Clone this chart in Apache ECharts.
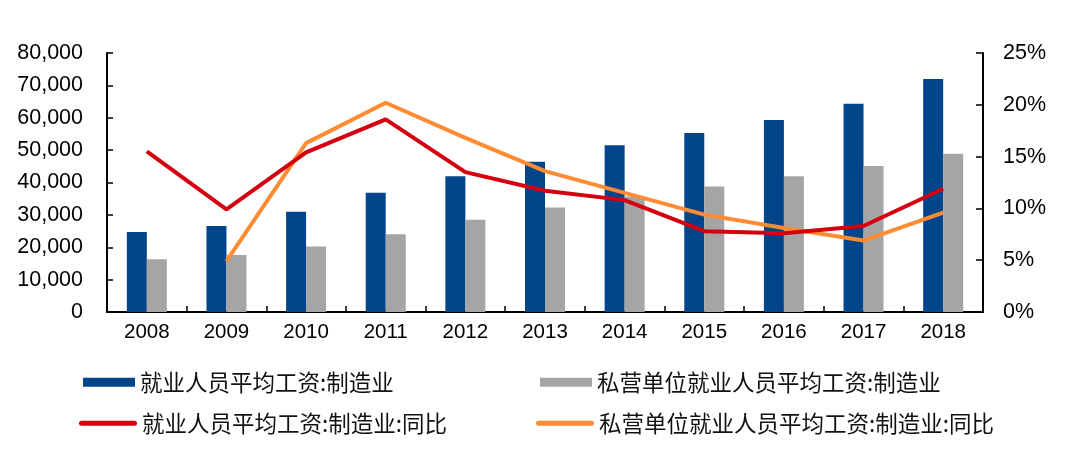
<!DOCTYPE html>
<html>
<head>
<meta charset="utf-8">
<script src="https://cdn.jsdelivr.net/npm/echarts@6/dist/echarts.min.js"></script>
<style>html,body{margin:0;padding:0;background:#fff;}#c{width:1080px;height:455px;}</style>
</head>
<body>
<div id="c"></div>
<script>
const categories = ['2008','2009','2010','2011','2012','2013','2014','2015','2016','2017','2018'];
const wageAll = [24700, 26600, 31000, 36800, 41900, 46400, 51500, 55300, 59300, 64300, 72000];
const wagePrivate = [16300, 17600, 20200, 24000, 28500, 32300, 35700, 38800, 41900, 45100, 48900];
const yoyAll = [15.5, 9.9, 15.4, 18.6, 13.5, 11.7, 10.8, 7.8, 7.6, 8.3, 11.9];
const yoyPrivate = [null, 4.9, 16.3, 20.2, 16.8, 13.6, 11.5, 9.4, 8.1, 6.9, 9.6];
const leftTicks = {min: 0, max: 80000, interval: 10000};
const rightTicks = {min: 0, max: 25, interval: 5};
const names = ['就业人员平均工资:制造业', '私营单位就业人员平均工资:制造业', '就业人员平均工资:制造业:同比', '私营单位就业人员平均工资:制造业:同比'];

const numFont = 'Liberation Sans, Arial, sans-serif';
const cjkFont = '"Noto Sans CJK SC", sans-serif';
const capsule = 'path://M2.5,0 L55.5,0 A2.5,2.5 0 0 1 55.5,5 L2.5,5 A2.5,2.5 0 0 1 2.5,0 Z';
const legendText = {fontFamily: cjkFont, fontSize: 22.5, color: '#111'};

const chart = echarts.init(document.getElementById('c'), null, {renderer: 'canvas'});
chart.setOption({
  animation: false,
  backgroundColor: '#fff',
  grid: {left: 107, right: 97, top: 53, bottom: 143, containLabel: false},
  legend: [
    {data: [names[0]], left: 83, top: 371, padding: 0, itemWidth: 52, itemHeight: 9, icon: 'rect', textStyle: legendText},
    {data: [names[1]], left: 540, top: 371, padding: 0, itemWidth: 52, itemHeight: 9, icon: 'rect', textStyle: legendText},
    {data: [names[2]], left: 79, top: 412, padding: 0, itemWidth: 58, itemHeight: 5, icon: capsule, textStyle: legendText},
    {data: [names[3]], left: 536, top: 412, padding: 0, itemWidth: 58, itemHeight: 5, icon: capsule, textStyle: legendText}
  ],
  xAxis: {
    type: 'category', data: categories, boundaryGap: true,
    axisLine: {lineStyle: {color: '#000', width: 2}},
    axisTick: {show: true, inside: true, length: 6, alignWithLabel: false, lineStyle: {color: '#000', width: 1.5}},
    axisLabel: {fontFamily: numFont, fontSize: 20.5, color: '#000', margin: 10},
    splitLine: {show: false}
  },
  yAxis: [
    {
      type: 'value', min: leftTicks.min, max: leftTicks.max, interval: leftTicks.interval,
      axisLine: {show: true, lineStyle: {color: '#000', width: 2}},
      axisTick: {show: true, inside: true, length: 6, lineStyle: {color: '#000', width: 1.5}},
      axisLabel: {fontFamily: numFont, fontSize: 21.5, color: '#000', margin: 24,
        formatter: v => v.toLocaleString('en-US')},
      splitLine: {show: false}
    },
    {
      type: 'value', min: rightTicks.min, max: rightTicks.max, interval: rightTicks.interval,
      position: 'right',
      axisLine: {show: true, lineStyle: {color: '#000', width: 2}},
      axisTick: {show: true, inside: true, length: 7, lineStyle: {color: '#000', width: 1.5}},
      axisLabel: {fontFamily: numFont, fontSize: 21.5, color: '#000', margin: 20, formatter: '{value}%'},
      splitLine: {show: false}
    }
  ],
  series: [
    {name: names[0], type: 'bar', data: wageAll, barWidth: 20, barGap: '0%', itemStyle: {color: '#02458A'}},
    {name: names[1], type: 'bar', data: wagePrivate, barWidth: 20, barGap: '0%', itemStyle: {color: '#A5A5A5'}},
    {name: names[2], type: 'line', yAxisIndex: 1, data: yoyAll, symbol: 'none', showSymbol: false,
      lineStyle: {color: '#D5000F', width: 4}, itemStyle: {color: '#D5000F'}, z: 4},
    {name: names[3], type: 'line', yAxisIndex: 1, data: yoyPrivate, symbol: 'none', showSymbol: false,
      lineStyle: {color: '#FF8B32', width: 4}, itemStyle: {color: '#FF8B32'}, z: 3}
  ]
});
</script>
</body>
</html>
